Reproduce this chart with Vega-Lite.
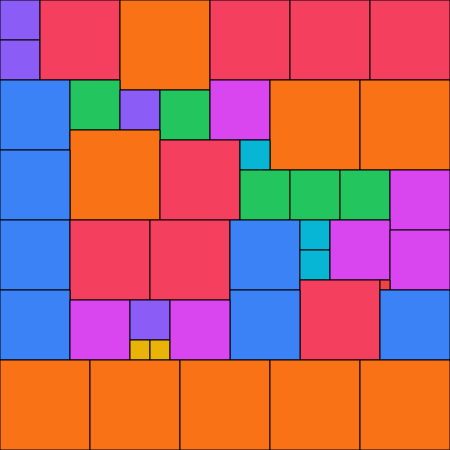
{
  "$schema": "https://vega.github.io/schema/vega-lite/v6.json",
  "width": 450,
  "height": 450,
  "padding": 0,
  "autosize": {"type": "none"},
  "background": "white",
  "view": {"stroke": null},
  "data": {"values": [
    {"x0": 0, "x1": 40, "y0": 0, "y1": 40, "c": "violet"},
    {"x0": 0, "x1": 40, "y0": 40, "y1": 80, "c": "violet"},
    {"x0": 40, "x1": 120, "y0": 0, "y1": 80, "c": "rose"},
    {"x0": 120, "x1": 210, "y0": 0, "y1": 90, "c": "orange"},
    {"x0": 210, "x1": 290, "y0": 0, "y1": 80, "c": "rose"},
    {"x0": 290, "x1": 370, "y0": 0, "y1": 80, "c": "rose"},
    {"x0": 370, "x1": 450, "y0": 0, "y1": 80, "c": "rose"},
    {"x0": 0, "x1": 70, "y0": 80, "y1": 150, "c": "blue"},
    {"x0": 70, "x1": 120, "y0": 80, "y1": 130, "c": "green"},
    {"x0": 120, "x1": 160, "y0": 90, "y1": 130, "c": "violet"},
    {"x0": 160, "x1": 210, "y0": 90, "y1": 140, "c": "green"},
    {"x0": 210, "x1": 270, "y0": 80, "y1": 140, "c": "fuchsia"},
    {"x0": 270, "x1": 360, "y0": 80, "y1": 170, "c": "orange"},
    {"x0": 360, "x1": 450, "y0": 80, "y1": 170, "c": "orange"},
    {"x0": 70, "x1": 160, "y0": 130, "y1": 220, "c": "orange"},
    {"x0": 160, "x1": 240, "y0": 140, "y1": 220, "c": "rose"},
    {"x0": 240, "x1": 270, "y0": 140, "y1": 170, "c": "cyan"},
    {"x0": 240, "x1": 290, "y0": 170, "y1": 220, "c": "green"},
    {"x0": 290, "x1": 340, "y0": 170, "y1": 220, "c": "green"},
    {"x0": 340, "x1": 390, "y0": 170, "y1": 220, "c": "green"},
    {"x0": 390, "x1": 450, "y0": 170, "y1": 230, "c": "fuchsia"},
    {"x0": 0, "x1": 70, "y0": 150, "y1": 220, "c": "blue"},
    {"x0": 0, "x1": 70, "y0": 220, "y1": 290, "c": "blue"},
    {"x0": 70, "x1": 150, "y0": 220, "y1": 300, "c": "rose"},
    {"x0": 150, "x1": 230, "y0": 220, "y1": 300, "c": "rose"},
    {"x0": 230, "x1": 300, "y0": 220, "y1": 290, "c": "blue"},
    {"x0": 300, "x1": 330, "y0": 220, "y1": 250, "c": "cyan"},
    {"x0": 300, "x1": 330, "y0": 250, "y1": 280, "c": "cyan"},
    {"x0": 330, "x1": 390, "y0": 220, "y1": 280, "c": "fuchsia"},
    {"x0": 390, "x1": 450, "y0": 230, "y1": 290, "c": "fuchsia"},
    {"x0": 300, "x1": 380, "y0": 280, "y1": 360, "c": "rose"},
    {"x0": 380, "x1": 390, "y0": 280, "y1": 290, "c": "red"},
    {"x0": 380, "x1": 450, "y0": 290, "y1": 360, "c": "blue"},
    {"x0": 230, "x1": 300, "y0": 290, "y1": 360, "c": "blue"},
    {"x0": 0, "x1": 70, "y0": 290, "y1": 360, "c": "blue"},
    {"x0": 70, "x1": 130, "y0": 300, "y1": 360, "c": "fuchsia"},
    {"x0": 130, "x1": 170, "y0": 300, "y1": 340, "c": "violet"},
    {"x0": 130, "x1": 150, "y0": 340, "y1": 360, "c": "yellow"},
    {"x0": 150, "x1": 170, "y0": 340, "y1": 360, "c": "yellow"},
    {"x0": 170, "x1": 230, "y0": 300, "y1": 360, "c": "fuchsia"},
    {"x0": 0, "x1": 90, "y0": 360, "y1": 450, "c": "orange"},
    {"x0": 90, "x1": 180, "y0": 360, "y1": 450, "c": "orange"},
    {"x0": 180, "x1": 270, "y0": 360, "y1": 450, "c": "orange"},
    {"x0": 270, "x1": 360, "y0": 360, "y1": 450, "c": "orange"},
    {"x0": 360, "x1": 450, "y0": 360, "y1": 450, "c": "orange"}
  ]},
  "mark": {"type": "rect", "stroke": "black", "strokeWidth": 1},
  "encoding": {
    "x": {"field": "x0", "type": "quantitative", "scale": {"domain": [0, 450], "nice": false, "zero": false}, "axis": null},
    "x2": {"field": "x1"},
    "y": {"field": "y0", "type": "quantitative", "scale": {"domain": [0, 450], "reverse": true, "nice": false, "zero": false}, "axis": null},
    "y2": {"field": "y1"},
    "color": {
      "field": "c", "type": "nominal", "legend": null,
      "scale": {
        "domain": ["violet", "rose", "orange", "blue", "green", "fuchsia", "cyan", "yellow", "red"],
        "range": ["#8b5cf6", "#f43f5e", "#f97316", "#3b82f6", "#22c55e", "#d946ef", "#06b6d4", "#eab308", "#ef4444"]
      }
    }
  }
}
